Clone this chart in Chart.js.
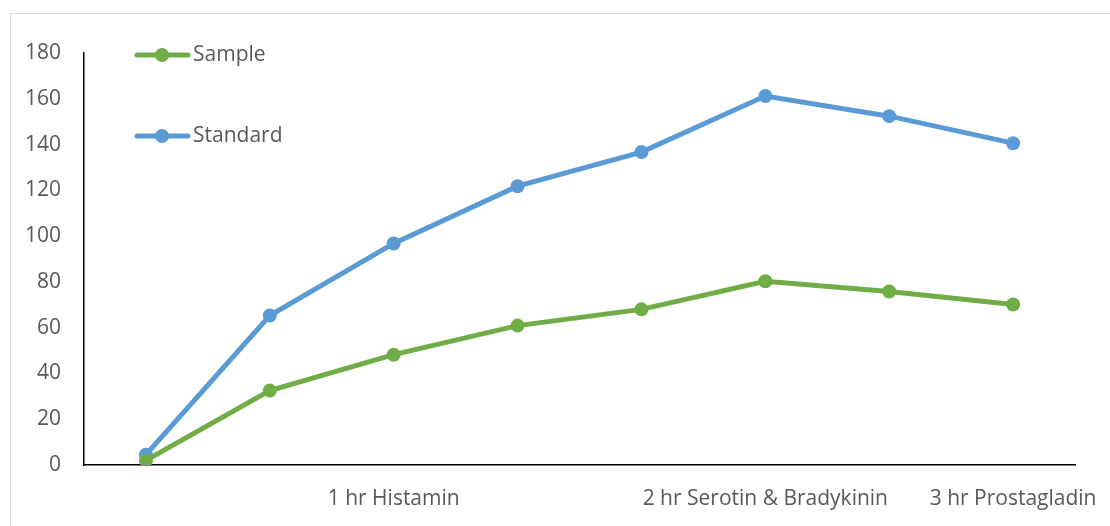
<!DOCTYPE html>
<html>
<head>
<meta charset="utf-8">
<script src="https://cdn.jsdelivr.net/npm/chart.js@4/dist/chart.umd.min.js"></script>
<style>
  html, body { margin: 0; padding: 0; background: #fff; overflow: hidden; }
  #wrap { position: relative; width: 1110px; height: 526px; }
  #frame { position: absolute; left: 10px; top: 13px; width: 1200px; height: 600px;
           border-top: 1px solid #d9d9d9; border-left: 1px solid #d9d9d9; }
  canvas { position: absolute; left: 0; top: 0; }
</style>
</head>
<body>
<div id="wrap">
  <div id="frame"></div>
  <canvas id="c" width="1110" height="526"></canvas>
</div>
<script>
// Time points along the x axis; only the phase markers carry a label
const categories = ['', '', '1 hr Histamin', '', '', '2 hr Serotin & Bradykinin', '', '3 hr Prostagladin'];
const sampleValues = [2, 32.5, 48.2, 60.9, 68, 80.3, 75.8, 70.1];
const standardValues = [4.5, 65.3, 96.8, 121.8, 136.7, 161.2, 152.4, 140.6];
const yTicks = [0, 20, 40, 60, 80, 100, 120, 140, 160, 180];

const FONT = '"Open Sans", "Liberation Sans", sans-serif';
const TEXT = '#595959';
const FONT_SIZE = 21;

// Vertical legend drawn inside the plot, line + marker + name
const sideLegend = {
  id: 'sideLegend',
  afterDraw(chart) {
    const ctx = chart.ctx;
    const rows = [55, 136];
    chart.data.datasets.forEach((ds, i) => {
      const y = rows[i];
      ctx.save();
      ctx.strokeStyle = ds.borderColor;
      ctx.lineWidth = 5;
      ctx.lineCap = 'round';
      ctx.beginPath();
      ctx.moveTo(137, y);
      ctx.lineTo(188, y);
      ctx.stroke();
      ctx.fillStyle = ds.borderColor;
      ctx.beginPath();
      ctx.arc(162, y, 7, 0, Math.PI * 2);
      ctx.fill();
      ctx.fillStyle = TEXT;
      ctx.font = FONT_SIZE + 'px ' + FONT;
      ctx.textBaseline = 'middle';
      ctx.textAlign = 'left';
      ctx.fillText(ds.label, 193, y);
      ctx.restore();
    });
  }
};

new Chart(document.getElementById('c'), {
  type: 'line',
  data: {
    labels: categories,
    datasets: [
      { label: 'Sample', data: sampleValues, borderColor: '#70AD47', backgroundColor: '#70AD47',
        borderWidth: 5, pointRadius: 7, pointHoverRadius: 7, pointBorderWidth: 0, tension: 0 },
      { label: 'Standard', data: standardValues, borderColor: '#5B9BD5', backgroundColor: '#5B9BD5',
        borderWidth: 5, pointRadius: 7, pointHoverRadius: 7, pointBorderWidth: 0, tension: 0 }
    ]
  },
  options: {
    responsive: false,
    animation: false,
    devicePixelRatio: 1,
    layout: { padding: { top: 53, right: 35, left: 0, bottom: 0 } },
    plugins: { legend: { display: false }, tooltip: { enabled: false } },
    scales: {
      x: {
        offset: true,
        grid: { display: false, drawTicks: false },
        border: { display: true, color: '#000', width: 1.5 },
        ticks: { autoSkip: false, maxRotation: 0, minRotation: 0, padding: 21,
                 color: TEXT, font: { family: FONT, size: FONT_SIZE } },
        afterFit(s) { s.height = 61; s.paddingLeft = 0; s.paddingRight = 0; }
      },
      y: {
        min: 0, max: 180,
        afterBuildTicks(s) { s.ticks = yTicks.map(v => ({ value: v })); },
        grid: { display: false, drawTicks: false },
        border: { display: true, color: '#000', width: 1.5 },
        ticks: { padding: 23, color: TEXT, font: { family: FONT, size: FONT_SIZE } },
        afterFit(s) { s.width = 84; s.paddingTop = 0; s.paddingBottom = 0; }
      }
    }
  },
  plugins: [sideLegend]
});
</script>
</body>
</html>
